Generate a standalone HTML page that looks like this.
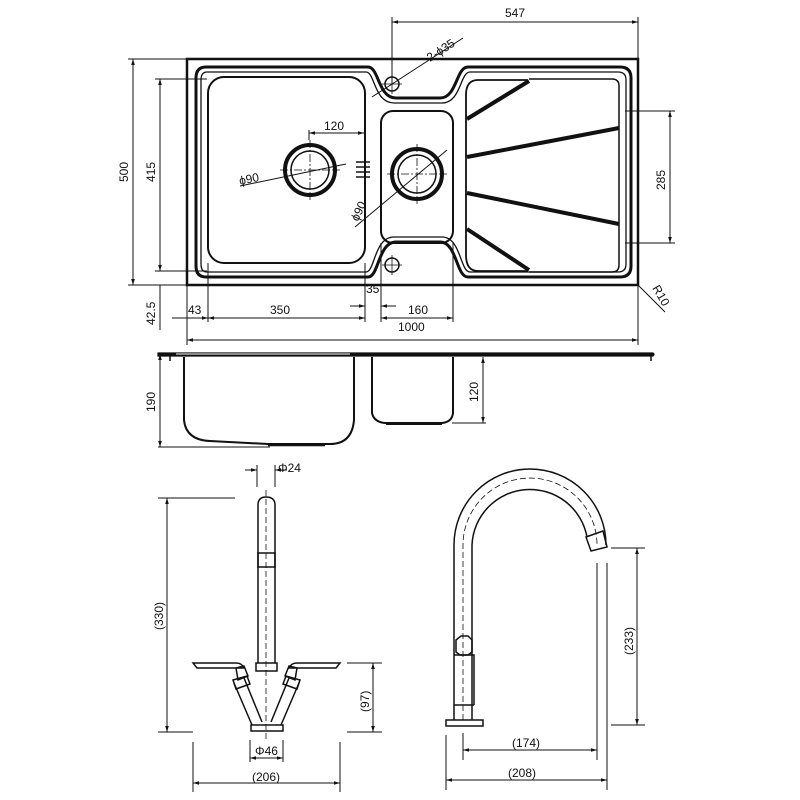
<!DOCTYPE html>
<html><head><style>body{margin:0;background:#fff}svg{display:block}text{font-family:"Liberation Sans",sans-serif;fill:#111}</style></head>
<body>
<svg width="800" height="800" viewBox="0 0 800 800" xmlns="http://www.w3.org/2000/svg">
<defs><marker id="a" viewBox="0 0 10 10" refX="10" refY="5" markerWidth="8" markerHeight="6" orient="auto-start-reverse"><path d="M0,2 L10,5 L0,8" fill="#111"/></marker></defs>
<g fill="none" stroke="#111">
<!-- top view -->
<rect x="187" y="59" width="451" height="226" stroke-width="2.5"/>
<path d="M206,67 H368 C379,67 378,98 396,98 H440 C457,98 456,67 468,67 H620 Q631,67 631,78 V266 Q631,277 620,277 H468 C456,277 457,242 440,242 H396 C378,242 379,277 368,277 H206 Q196,277 196,266 V78 Q196,67 206,67 Z" stroke-width="3"/>
<path d="M207,72 H366 C375,72 374,103 394,103 H442 C461,103 460,72 470,72 H618 Q626,72 626,80 V264 Q626,272 618,272 H470 C460,272 461,237 442,237 H394 C374,237 375,272 366,272 H207 Q201,272 201,264 V80 Q201,72 207,72 Z" stroke-width="1.3"/>
<rect x="208" y="77" width="157" height="186" rx="16" stroke-width="2"/>
<rect x="381" y="111" width="72" height="132" rx="12" stroke-width="2"/>
<path d="M529,79 H612 Q619,79 619,86 V265 Q619,272 612,272 H529" stroke-width="1.5"/>
<path d="M528,80 H478 Q466,80 466,95 V255 Q466,271 478,271 H528" stroke-width="1.8"/>
<g stroke-width="4"><line x1="467" y1="119" x2="529" y2="81"/><line x1="467" y1="157" x2="619" y2="128"/><line x1="467" y1="193" x2="619" y2="224"/><line x1="467" y1="229" x2="529" y2="270"/></g>
<circle cx="310" cy="170" r="25" stroke-width="4"/><circle cx="310" cy="170" r="19" stroke-width="1.5"/>
<circle cx="417" cy="174" r="25" stroke-width="4"/><circle cx="417" cy="174" r="19" stroke-width="1.5"/>
<circle cx="392" cy="84" r="7" stroke-width="1.5"/><circle cx="392" cy="265" r="7" stroke-width="1.5"/>
<g stroke-width="0.8"><line x1="382" y1="84" x2="402" y2="84"/><line x1="392" y1="74" x2="392" y2="94"/><line x1="382" y1="265" x2="402" y2="265"/><line x1="392" y1="255" x2="392" y2="275"/></g>
<g stroke-width="0.8" stroke-dasharray="8,2,2,2"><line x1="280" y1="170" x2="340" y2="170"/><line x1="310" y1="140" x2="310" y2="200"/><line x1="387" y1="174" x2="447" y2="174"/><line x1="417" y1="144" x2="417" y2="204"/></g>
<g stroke-width="1.5"><line x1="356" y1="162" x2="370" y2="162"/><line x1="356" y1="167" x2="370" y2="167"/><line x1="356" y1="172" x2="370" y2="172"/><line x1="356" y1="177" x2="370" y2="177"/></g>
<g stroke-width="1">
<line x1="240" y1="186" x2="346" y2="164"/><line x1="355" y1="227" x2="447" y2="150"/><line x1="372" y1="97" x2="463" y2="38"/>
<line x1="392" y1="17" x2="392" y2="85"/><line x1="638" y1="17" x2="638" y2="58"/><line x1="392" y1="22" x2="638" y2="22" marker-start="url(#a)" marker-end="url(#a)"/>
<line x1="128" y1="59" x2="186" y2="59"/><line x1="128" y1="285" x2="186" y2="285"/><line x1="133" y1="59" x2="133" y2="285" marker-start="url(#a)" marker-end="url(#a)"/>
<line x1="155" y1="79" x2="207" y2="79"/><line x1="155" y1="271" x2="207" y2="271"/><line x1="160" y1="79" x2="160" y2="271" marker-start="url(#a)" marker-end="url(#a)"/>
<line x1="160" y1="285" x2="160" y2="330"/>
<line x1="625" y1="111" x2="675" y2="111"/><line x1="625" y1="243" x2="675" y2="243"/><line x1="670" y1="111" x2="670" y2="243" marker-start="url(#a)" marker-end="url(#a)"/>
<line x1="208" y1="263" x2="208" y2="322"/><line x1="365" y1="263" x2="365" y2="322"/><line x1="381" y1="243" x2="381" y2="322"/><line x1="453" y1="243" x2="453" y2="322"/>
<line x1="172" y1="318" x2="208" y2="318" marker-end="url(#a)"/><line x1="208" y1="318" x2="365" y2="318" marker-start="url(#a)" marker-end="url(#a)"/>
<line x1="350" y1="306" x2="365" y2="306" marker-end="url(#a)"/><line x1="396" y1="306" x2="381" y2="306" marker-end="url(#a)"/>
<line x1="381" y1="318" x2="453" y2="318" marker-start="url(#a)" marker-end="url(#a)"/>
<line x1="187" y1="285" x2="187" y2="345"/><line x1="638" y1="285" x2="638" y2="345"/><line x1="187" y1="340" x2="638" y2="340" marker-start="url(#a)" marker-end="url(#a)"/>
<line x1="638" y1="285" x2="665" y2="312"/>
<line x1="309" y1="140" x2="309" y2="130"/><line x1="309" y1="133" x2="364" y2="133" marker-start="url(#a)" marker-end="url(#a)"/>
</g>
<!-- side view -->
<path d="M158,353 H653 Q655,354 653,356 H158 Z" stroke-width="1.2" fill="#111"/>
<line x1="176" y1="354" x2="350" y2="354" stroke="#fff" stroke-width="1"/>
<line x1="170" y1="356" x2="170" y2="361" stroke-width="1.5"/><line x1="651" y1="356" x2="651" y2="361" stroke-width="1.5"/>
<path d="M184,357 V420 Q186,440 210,441 L268,444 H330 Q352,444 354,420 V357" stroke-width="2"/>
<path d="M372,357 V413 Q374,422 385,423 H442 Q452,422 453,413 V357" stroke-width="2"/>
<line x1="268" y1="445" x2="325" y2="445" stroke-width="2.5"/>
<line x1="386" y1="424" x2="442" y2="424" stroke-width="2"/>
<g stroke-width="1"><line x1="158" y1="447" x2="270" y2="447"/><line x1="160" y1="354" x2="160" y2="447" marker-start="url(#a)" marker-end="url(#a)"/>
<line x1="452" y1="423" x2="486" y2="423"/><line x1="483" y1="357" x2="483" y2="423" marker-start="url(#a)" marker-end="url(#a)"/></g>
<!-- left tap -->
<g stroke-width="1.5">
<path d="M258,663 V505 Q258,497 266,497 Q275,497 275,505 V663"/>
<rect x="258" y="553" width="17" height="14"/>
<rect x="256" y="663" width="21" height="8"/>
<path d="M193,663 H236 Q242,663 244,668 H197 Z"/><path d="M340,663 H297 Q291,663 289,668 H336 Z"/>
<path d="M236,668 L244,666 L248,676 L238,680 Z"/><path d="M297,668 L289,666 L285,676 L295,680 Z"/>
<path d="M234,683 L252,725 M244,678 L262,722"/><path d="M299,683 L281,725 M289,678 L271,722"/>
<path d="M233,680 L247,676 L250,684 L236,689 Z"/><path d="M300,680 L286,676 L283,684 L297,689 Z"/>
<rect x="251" y="725" width="32" height="6"/>
</g>
<line x1="266" y1="490" x2="266" y2="740" stroke-width="0.8" stroke-dasharray="6,3"/>
<g stroke-width="1">
<line x1="257" y1="465" x2="257" y2="487"/><line x1="275" y1="465" x2="275" y2="487"/>
<line x1="245" y1="470" x2="257" y2="470" marker-end="url(#a)"/><line x1="287" y1="470" x2="275" y2="470" marker-end="url(#a)"/>
<line x1="158" y1="498" x2="235" y2="498"/><line x1="158" y1="732" x2="193" y2="732"/><line x1="167" y1="498" x2="167" y2="732" marker-start="url(#a)" marker-end="url(#a)"/>
<line x1="347" y1="663" x2="382" y2="663"/><line x1="347" y1="732" x2="382" y2="732"/><line x1="373" y1="663" x2="373" y2="732" marker-start="url(#a)" marker-end="url(#a)"/>
<line x1="250" y1="740" x2="250" y2="762"/><line x1="283" y1="740" x2="283" y2="762"/><line x1="250" y1="758" x2="283" y2="758" marker-start="url(#a)" marker-end="url(#a)"/>
<line x1="193" y1="742" x2="193" y2="792"/><line x1="340" y1="742" x2="340" y2="792"/><line x1="193" y1="783" x2="340" y2="783" marker-start="url(#a)" marker-end="url(#a)"/>
</g>
<!-- right tap -->
<g stroke-width="1.5">
<path d="M454,720 V545 A76,76 0 0 1 606,545"/>
<path d="M472,720 V545 A58,58 0 0 1 587,537"/>
<path d="M586,537 L603,531 L607,547 L591,551 Z"/>
<path d="M454,655 H474 V705 M454,705 H474"/>
<path d="M456,640 L461,636 H468 L472,640 V652 L468,655 H460 L456,652 Z"/>
<rect x="446" y="720" width="37" height="6"/>
</g>
<path d="M463,720 V545 A67,67 0 0 1 597,545" stroke-width="0.8" stroke-dasharray="6,3"/>
<g stroke-width="1">
<line x1="611" y1="548" x2="645" y2="548"/><line x1="611" y1="725" x2="645" y2="725"/><line x1="637" y1="548" x2="637" y2="725" marker-start="url(#a)" marker-end="url(#a)"/>
<line x1="597" y1="563" x2="597" y2="760"/><line x1="607" y1="563" x2="607" y2="790"/>
<line x1="463" y1="733" x2="463" y2="760"/><line x1="446" y1="735" x2="446" y2="790"/>
<line x1="463" y1="750" x2="597" y2="750" marker-start="url(#a)" marker-end="url(#a)"/>
<line x1="446" y1="780" x2="607" y2="780" marker-start="url(#a)" marker-end="url(#a)"/>
</g>
</g>
<g font-size="12">
<text x="505" y="17">547</text>
<text x="0" y="0" transform="translate(430,62) rotate(-33)">2-ϕ35</text>
<text x="0" y="0" transform="translate(128,182) rotate(-90)">500</text>
<text x="0" y="0" transform="translate(155,182) rotate(-90)">415</text>
<text x="0" y="0" transform="translate(155,325) rotate(-90)">42.5</text>
<text x="0" y="0" transform="translate(665,190) rotate(-90)">285</text>
<text x="0" y="0" transform="translate(652,288) rotate(60)">R10</text>
<text x="324" y="130">120</text>
<text x="0" y="0" transform="translate(240,185) rotate(-12)">ϕ90</text>
<text x="0" y="0" transform="translate(358,222) rotate(-65)">ϕ90</text>
<text x="188" y="314">43</text><text x="270" y="314">350</text><text x="366" y="293">35</text><text x="408" y="314">160</text>
<text x="398" y="331">1000</text>
<text x="0" y="0" transform="translate(155,412) rotate(-90)">190</text>
<text x="0" y="0" transform="translate(478,402) rotate(-90)">120</text>
<text x="278" y="472">Φ24</text>
<text x="0" y="0" transform="translate(163,630) rotate(-90)">(330)</text>
<text x="0" y="0" transform="translate(369,712) rotate(-90)">(97)</text>
<text x="255" y="755">Φ46</text>
<text x="252" y="781">(206)</text>
<text x="0" y="0" transform="translate(633,655) rotate(-90)">(233)</text>
<text x="512" y="747">(174)</text>
<text x="508" y="777">(208)</text>
</g>
</svg>
</body></html>
